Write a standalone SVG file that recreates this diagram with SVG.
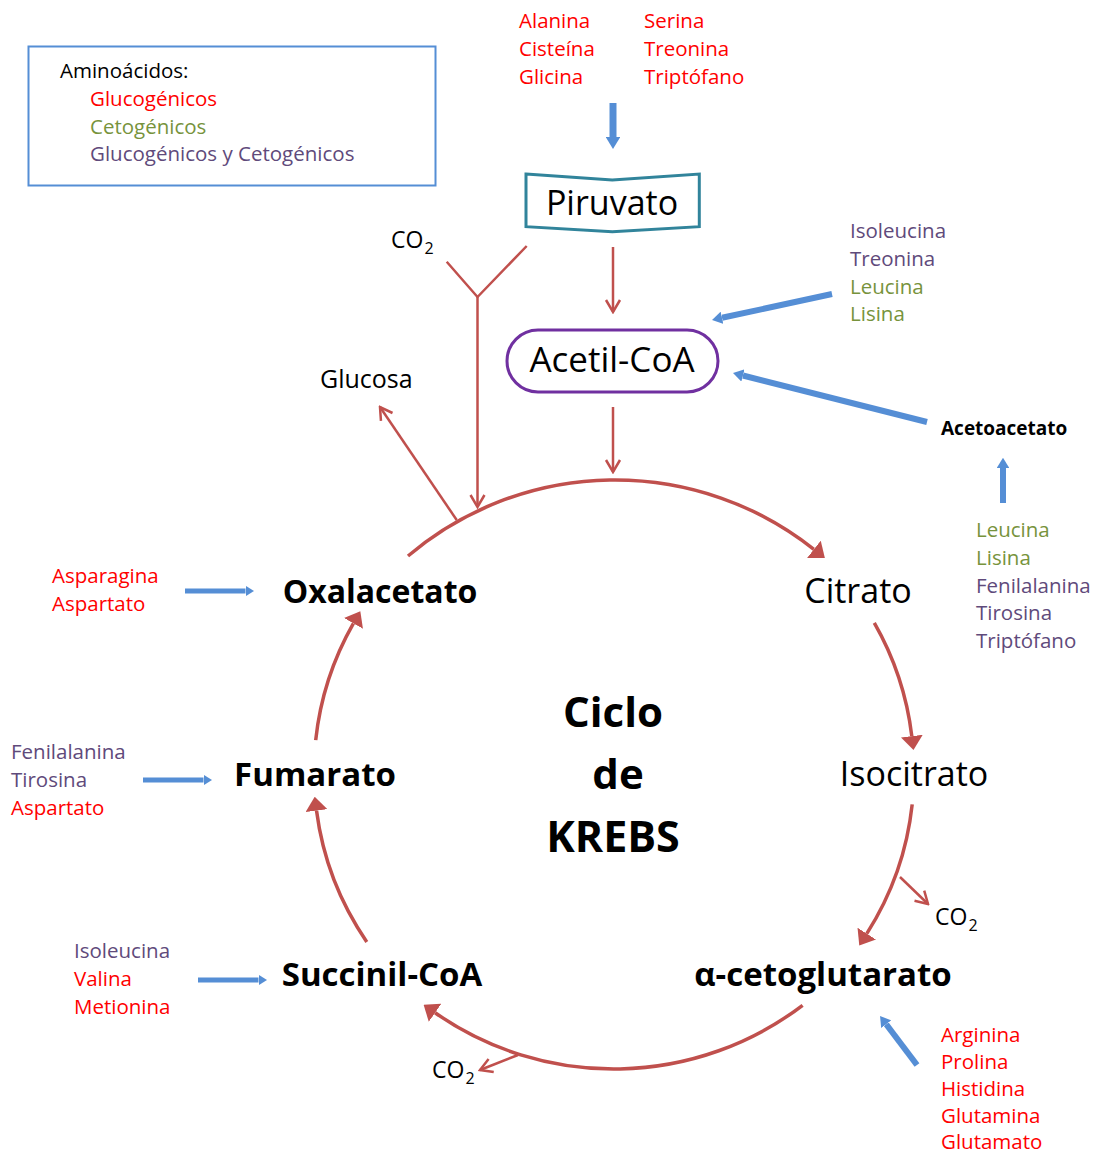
<svg xmlns="http://www.w3.org/2000/svg" width="1095" height="1155" viewBox="0 0 1095 1155">
  <style>
    text { font-family: "Open Sans", "Noto Sans", "Liberation Sans", sans-serif; }
    .aa { font-size: 20.5px; }
    .red { fill: #FF0000; }
    .grn { fill: #77933C; }
    .pur { fill: #604A7B; }
    .blk { fill: #000000; }
    .node { font-size: 34px; fill: #000; }
    .bold { font-weight: bold; font-size: 33px; }
    .co2 { font-size: 23px; fill: #000; }
    .sub { font-size: 16px; }
    .cyc { fill: none; stroke: #C0504D; stroke-width: 3.5; marker-end: url(#redHead); }
    .thin { fill: none; stroke: #C0504D; stroke-width: 2.5; }
    .opn { marker-end: url(#openHead); }
    .blue { fill: none; stroke: #558ED5; marker-end: url(#blueHead); }
  </style>
  <defs>
    <marker id="redHead" markerUnits="userSpaceOnUse" markerWidth="14" markerHeight="22" viewBox="0 0 14 22" refX="0" refY="11" orient="auto">
      <path d="M0,0 L14,11 L0,22 z" fill="#C0504D"/>
    </marker>
    <marker id="openHead" markerUnits="userSpaceOnUse" markerWidth="16" markerHeight="18" viewBox="-2 -2 16 18" refX="12" refY="7" orient="auto">
      <path d="M0,0 L12,7 L0,14" fill="none" stroke="#C0504D" stroke-width="2.5"/>
    </marker>
    <marker id="blueHead" markerUnits="strokeWidth" markerWidth="1.7" markerHeight="2.1" viewBox="0 0 10 10" preserveAspectRatio="none" refX="0" refY="5" orient="auto">
      <path d="M0,0 L10,5 L0,10 z" fill="#558ED5"/>
    </marker>
  </defs>

  <!-- legend -->
  <g id="legend">
    <rect x="28.5" y="46.5" width="407" height="139" fill="none" stroke="#558ED5" stroke-width="2"/>
    <text x="60" y="78" class="aa blk">Aminoácidos:</text>
    <text x="90" y="106" class="aa red">Glucogénicos</text>
    <text x="90" y="134" class="aa grn">Cetogénicos</text>
    <text x="90" y="161" class="aa pur">Glucogénicos y Cetogénicos</text>
  </g>

  <!-- connectors -->
  <g id="connectors">
    <!-- cycle arcs -->
    <path class="cyc" d="M408,556 A320,320 0 0 1 813.9,549.3"/>
    <path class="cyc" d="M874.3,622.9 A300,300 0 0 1 911.8,736.1"/>
    <path class="cyc" d="M912.2,804.4 A300,300 0 0 1 866.8,933.6"/>
    <path class="cyc" d="M802.6,1005.3 A312,312 0 0 1 435.1,1012.8"/>
    <path class="cyc" d="M366.8,941.9 A300,300 0 0 1 316.5,810.6"/>
    <path class="cyc" d="M315.7,740.1 A300,300 0 0 1 353.4,623.4"/>

    <!-- thin red arrows -->
    <path class="thin" d="M446.7,261.7 L477.5,297 L526.7,246"/>
    <path class="thin opn" d="M477.5,297 L477.5,507"/>
    <path class="thin opn" d="M456.7,520 L380,407"/>
    <path class="thin opn" d="M613,247 L613,312"/>
    <path class="thin opn" d="M613,407 L613,472"/>
    <path class="thin opn" d="M900,877 L928,904"/>
    <path class="thin opn" d="M518,1055 L480,1070"/>

    <!-- blue arrows -->
    <path class="blue" stroke-width="7" d="M613,103 L613,137"/>
    <path class="blue" stroke-width="6" d="M832,294 L722,317.8"/>
    <path class="blue" stroke-width="6" d="M927,422 L742.9,375.5"/>
    <path class="blue" stroke-width="6" d="M1003,503 L1003,468"/>
    <path class="blue" stroke-width="5" d="M185,591 L245.5,591"/>
    <path class="blue" stroke-width="5" d="M143,780 L203.5,780"/>
    <path class="blue" stroke-width="5" d="M198,980 L258.5,980"/>
    <path class="blue" stroke-width="6" d="M917,1065 L886.2,1024.2"/>
  </g>

  <!-- nodes -->
  <g id="piruvato">
    <path d="M526,174 L612.3,180 L699.3,174 L699.3,226.7 L612.3,231.7 L526,226.7 Z" fill="#fff" stroke="#31849B" stroke-width="3"/>
    <text x="612" y="215" text-anchor="middle" class="node">Piruvato</text>
  </g>
  <g id="acetil-coa">
    <rect x="507" y="330" width="211" height="62" rx="31" fill="#fff" stroke="#7030A0" stroke-width="3"/>
    <text x="612" y="372" text-anchor="middle" class="node" style="font-size:35px">Acetil-CoA</text>
  </g>
  <g id="oxalacetato"><text x="380" y="603" text-anchor="middle" class="node bold" style="font-size:32px">Oxalacetato</text></g>
  <g id="citrato"><text x="858" y="603" text-anchor="middle" class="node">Citrato</text></g>
  <g id="isocitrato"><text x="914" y="786" text-anchor="middle" class="node">Isocitrato</text></g>
  <g id="alfa-cetoglutarato"><text x="823" y="986" text-anchor="middle" class="node bold">α-cetoglutarato</text></g>
  <g id="succinil-coa"><text x="382" y="986" text-anchor="middle" class="node bold">Succinil-CoA</text></g>
  <g id="fumarato"><text x="315" y="786" text-anchor="middle" class="node bold">Fumarato</text></g>
  <g id="ciclo-krebs">
    <text x="613" y="727" text-anchor="middle" class="node bold" style="font-size:42px">Ciclo</text>
    <text x="618" y="789" text-anchor="middle" class="node bold" style="font-size:42px">de</text>
    <text x="613" y="852" text-anchor="middle" class="node bold" style="font-size:43px">KREBS</text>
  </g>
  <g id="glucosa"><text x="320" y="388" class="blk" style="font-size:25px">Glucosa</text></g>
  <g id="co2-piruvato"><text x="391" y="248" class="co2">CO<tspan dx="1" dy="6" class="sub">2</tspan></text></g>
  <g id="co2-isocitrato"><text x="935" y="925" class="co2">CO<tspan dx="1" dy="6" class="sub">2</tspan></text></g>
  <g id="co2-alfa"><text x="432" y="1078" class="co2">CO<tspan dx="1" dy="6" class="sub">2</tspan></text></g>
  <g id="acetoacetato"><text x="941" y="435" class="blk" style="font-size:19px;font-weight:bold">Acetoacetato</text></g>

  <!-- amino acid groups -->
  <g id="aa-piruvato" class="aa">
    <text x="519" y="28" class="red">Alanina</text>
    <text x="519" y="56" class="red">Cisteína</text>
    <text x="519" y="84" class="red">Glicina</text>
    <text x="644" y="28" class="red">Serina</text>
    <text x="644" y="56" class="red">Treonina</text>
    <text x="644" y="84" class="red">Triptófano</text>
  </g>
  <g id="aa-acetil" class="aa">
    <text x="850" y="238" class="pur">Isoleucina</text>
    <text x="850" y="266" class="pur">Treonina</text>
    <text x="850" y="294" class="grn">Leucina</text>
    <text x="850" y="321" class="grn">Lisina</text>
  </g>
  <g id="aa-acetoacetato" class="aa">
    <text x="976" y="537" class="grn">Leucina</text>
    <text x="976" y="565" class="grn">Lisina</text>
    <text x="976" y="593" class="pur">Fenilalanina</text>
    <text x="976" y="620" class="pur">Tirosina</text>
    <text x="976" y="648" class="pur">Triptófano</text>
  </g>
  <g id="aa-oxalacetato" class="aa">
    <text x="52" y="583" class="red">Asparagina</text>
    <text x="52" y="611" class="red">Aspartato</text>
  </g>
  <g id="aa-fumarato" class="aa">
    <text x="11" y="759" class="pur">Fenilalanina</text>
    <text x="11" y="787" class="pur">Tirosina</text>
    <text x="11" y="815" class="red">Aspartato</text>
  </g>
  <g id="aa-succinil" class="aa">
    <text x="74" y="958" class="pur">Isoleucina</text>
    <text x="74" y="986" class="red">Valina</text>
    <text x="74" y="1014" class="red">Metionina</text>
  </g>
  <g id="aa-alfa" class="aa">
    <text x="941" y="1042" class="red">Arginina</text>
    <text x="941" y="1069" class="red">Prolina</text>
    <text x="941" y="1096" class="red">Histidina</text>
    <text x="941" y="1123" class="red">Glutamina</text>
    <text x="941" y="1149" class="red">Glutamato</text>
  </g>
</svg>
